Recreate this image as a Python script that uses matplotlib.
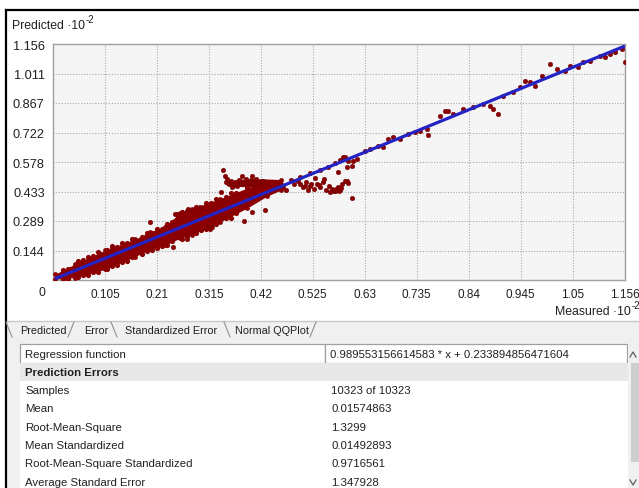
import matplotlib
matplotlib.use("Agg")
import matplotlib.pyplot as plt
from matplotlib.patches import Rectangle
import numpy as np

plt.rcParams['font.family'] = ['Liberation Sans', 'DejaVu Sans']

# --- data (display units, x10^-2) ---
x_ticks = [0.105, 0.21, 0.315, 0.42, 0.525, 0.63, 0.735, 0.84, 0.945, 1.05, 1.156]
x_labels = ['0.105', '0.21', '0.315', '0.42', '0.525', '0.63', '0.735', '0.84', '0.945', '1.05', '1.156']
y_ticks = [0.144, 0.289, 0.433, 0.578, 0.722, 0.867, 1.011, 1.156]
y_labels = ['0.144', '0.289', '0.433', '0.578', '0.722', '0.867', '1.011', '1.156']

# dense part of the cloud: envelope of the points
band_x = [0.004, 0.044, 0.105, 0.166, 0.196, 0.226, 0.257, 0.281, 0.338, 0.392, 0.432, 0.46]
band_lo = [0.003, 0.012, 0.052, 0.115, 0.150, 0.170, 0.205, 0.222, 0.285, 0.352, 0.410, 0.440]
band_hi = [0.028, 0.078, 0.145, 0.200, 0.235, 0.262, 0.330, 0.350, 0.398, 0.450, 0.480, 0.490]

# the flat blob above the line around x = 0.35 .. 0.46
blob_x = [0.350, 0.380, 0.420, 0.460]
blob_lo = [0.464, 0.458, 0.452, 0.456]
blob_hi = [0.486, 0.494, 0.496, 0.492]

# ragged points along the edges of the dense band
edge_x = [0.02, 0.03, 0.05, 0.06, 0.07, 0.08, 0.09, 0.11, 0.12, 0.13, 0.14, 0.15, 0.16, 0.18, 0.19,
          0.20, 0.21, 0.22, 0.23, 0.24, 0.26, 0.27, 0.29, 0.30, 0.31, 0.32, 0.33, 0.35, 0.36, 0.37]
edge_hi = [0.050, 0.056, 0.092, 0.097, 0.115, 0.118, 0.135, 0.148, 0.165, 0.160, 0.180, 0.182, 0.200,
           0.212, 0.230, 0.232, 0.250, 0.252, 0.275, 0.285, 0.335, 0.336, 0.360, 0.352, 0.375, 0.378,
           0.395, 0.405, 0.425, 0.428]
edge_lo = [0.006, 0.006, 0.014, 0.024, 0.026, 0.038, 0.040, 0.055, 0.070, 0.074, 0.090, 0.094, 0.112,
           0.126, 0.143, 0.146, 0.156, 0.168, 0.172, 0.192, 0.202, 0.215, 0.228, 0.246, 0.250, 0.268,
           0.272, 0.303, 0.306, 0.326]

# single points that stick out of the cloud
pts_x = [0.247, 0.243, 0.313, 0.095, 0.119, 0.176, 0.196, 0.251, 0.166, 0.273, 0.297, 0.271, 0.321,
         0.344, 0.348, 0.382, 0.402, 0.340, 0.344, 0.386, 0.428, 0.402, 0.317,
         0.350, 0.355, 0.360, 0.365, 0.370, 0.375, 0.380, 0.385, 0.390, 0.395, 0.400, 0.405, 0.410,
         0.415, 0.352, 0.362, 0.372, 0.392, 0.420, 0.425, 0.430,
         0.500, 0.505, 0.512, 0.520, 0.527, 0.533, 0.540, 0.545, 0.552, 0.558, 0.563, 0.570, 0.575,
         0.580, 0.585, 0.590, 0.560, 0.548, 0.515, 0.530, 0.495, 0.487, 0.465, 0.470,
         0.567, 0.572, 0.578, 0.583, 0.510, 0.522, 0.537, 0.596,
         0.445, 0.460, 0.480, 0.500, 0.520, 0.540, 0.555, 0.570, 0.580,
         0.604, 0.594, 0.576, 0.606, 0.586, 0.596, 0.594, 0.604,
         0.590, 0.614, 0.631, 0.641, 0.657, 0.667, 0.677, 0.687, 0.701, 0.717, 0.732, 0.742, 0.756,
         0.758, 0.782, 0.792, 0.798, 0.808, 0.829, 0.849, 0.869, 0.883, 0.889, 0.899, 0.909, 0.930,
         0.944, 0.954, 0.964, 0.974, 0.988, 1.004, 1.019, 1.035, 1.045, 1.061, 1.071, 1.085, 1.105,
         1.116, 1.126, 1.136, 1.150, 1.155]
pts_y = [0.323, 0.162, 0.260, 0.127, 0.152, 0.176, 0.284, 0.323, 0.191, 0.348, 0.358, 0.200, 0.260,
         0.539, 0.509, 0.509, 0.509, 0.431, 0.387, 0.289, 0.343, 0.333, 0.250,
         0.480, 0.470, 0.487, 0.465, 0.478, 0.490, 0.470, 0.482, 0.497, 0.475, 0.488, 0.470, 0.495,
         0.478, 0.495, 0.455, 0.460, 0.460, 0.466, 0.485, 0.475,
         0.470, 0.455, 0.480, 0.462, 0.445, 0.470, 0.455, 0.480, 0.440, 0.462, 0.448, 0.435, 0.455,
         0.442, 0.470, 0.485, 0.432, 0.495, 0.440, 0.500, 0.485, 0.470, 0.455, 0.440,
         0.438, 0.444, 0.436, 0.450, 0.462, 0.470, 0.466, 0.474,
         0.452, 0.470, 0.490, 0.505, 0.525, 0.540, 0.555, 0.575, 0.590,
         0.400, 0.485, 0.529, 0.583, 0.602, 0.583, 0.553, 0.558,
         0.602, 0.593, 0.632, 0.642, 0.656, 0.651, 0.691, 0.700, 0.691, 0.715, 0.725, 0.730, 0.740,
         0.710, 0.803, 0.828, 0.828, 0.813, 0.838, 0.847, 0.862, 0.852, 0.838, 0.813, 0.901, 0.921,
         0.945, 0.975, 0.970, 0.950, 0.999, 1.058, 1.033, 1.024, 1.048, 1.043, 1.068, 1.073, 1.097,
         1.092, 1.107, 1.117, 1.131, 1.068]

slope = 0.989553156614583
intercept = 0.233894856471604
scale = 0.01

table_names = ['Samples', 'Mean', 'Root-Mean-Square', 'Mean Standardized',
               'Root-Mean-Square Standardized', 'Average Standard Error']
table_values = ['10323 of 10323', '0.01574863', '1.3299', '0.01492893', '0.9716561', '1.347928']
tab_names = ['Predicted', 'Error', 'Standardized Error', 'Normal QQPlot']

W, H = 639, 489
txt_col = '#202020'
red = '#8b0000'

fig = plt.figure(figsize=(W / 100, H / 100), dpi=100)
ui = fig.add_axes([0, 0, 1, 1])
ui.set_xlim(0, W)
ui.set_ylim(H, 0)
ui.axis('off')
renderer = fig.canvas.get_renderer()


def label_with_exp(x, y, base, ha_right=None):
    t = ui.text(x, y, base, fontsize=8.8, va='center', ha='left', color=txt_col)
    bb = t.get_window_extent(renderer)
    x_end = bb.x1  # pixels, same as ui units horizontally
    ui.text(x_end + 1, y - 6, '-2', fontsize=7, va='center', ha='left', color=txt_col)
    return x_end


# window border
ui.plot([6, W], [11, 11], color='black', lw=1.6)
ui.plot([6, 6], [11, H], color='black', lw=1.6)

# axis titles
label_with_exp(12, 26, 'Predicted \u00b710')
label_with_exp(555, 312, 'Measured \u00b710')
ui.text(42, 293, '0', fontsize=8.8, va='center', ha='center', color=txt_col)

# tab strip
ui.add_patch(Rectangle((7, 322), W - 7, 18, facecolor='#f0f0f0', edgecolor='none'))
ui.plot([7, W], [322, 322], color='#c8c8c8', lw=1)
tab_x = [20, 84, 125, 235]
for name, tx in zip(tab_names, tab_x):
    ui.text(tx, 331, name, fontsize=7.8, va='center', ha='left', color=txt_col)
for sx, d in [(9, -1), (71, 1), (114, -1), (227, -1), (313, 1)]:
    ui.plot([sx - 3 * d, sx + 3 * d], [338, 323], color='#909090', lw=0.8)

# table
ui.add_patch(Rectangle((7, 340), W - 7, H - 340, facecolor='#f0f0f0', edgecolor='none'))
ui.add_patch(Rectangle((20, 382), 608, H - 382, facecolor='white', edgecolor='none'))
ui.add_patch(Rectangle((20, 345), 305, 19, facecolor='white', edgecolor='#a0a0a0', lw=0.9))
ui.add_patch(Rectangle((325, 345), 302, 19, facecolor='white', edgecolor='#a0a0a0', lw=0.9))
ui.text(25, 355, 'Regression function', fontsize=8.2, va='center', ha='left', color=txt_col)
ui.text(330, 355, '%s * x + %s' % (repr(slope), repr(intercept)), fontsize=8.2,
        va='center', ha='left', color=txt_col)
ui.add_patch(Rectangle((20, 364), 608, 18, facecolor='#e8e8e8', edgecolor='none'))
ui.text(25, 373, 'Prediction Errors', fontsize=8.2, fontweight='bold', va='center', ha='left',
        color=txt_col)
for i, (nm, val) in enumerate(zip(table_names, table_values)):
    yy = 391 + i * 18.3
    ui.text(25, yy, nm, fontsize=8.2, va='center', ha='left', color=txt_col)
    ui.text(331, yy, val, fontsize=8.2, va='center', ha='left', color=txt_col)

# scrollbar
ui.add_patch(Rectangle((628, 345), 11, H - 345, facecolor='#f0f0f0', edgecolor='none'))
ui.add_patch(Rectangle((631, 364), 8, 99, facecolor='#cdcdcd', edgecolor='none'))
ui.plot([630, 633, 636], [358, 353, 358], color='#606060', lw=0.9)
ui.plot([630, 633, 636], [481, 486, 481], color='#606060', lw=0.9)

# chart
ax = fig.add_axes([53 / W, 1 - 281 / H, 572 / W, 236 / H])
ax.set_facecolor('#f5f5f5')
ax.set_xlim(0, 1.156)
ax.set_ylim(0, 1.156)
ax.fill_between(band_x, band_lo, band_hi, color=red, lw=0, zorder=2)
ax.fill_between(blob_x, blob_lo, blob_hi, color=red, lw=0, zorder=2)
ax.scatter(edge_x + edge_x, edge_hi + edge_lo, s=14, color=red, lw=0, zorder=3)
ax.scatter(band_x + band_x, band_lo + band_hi, s=12, color=red, lw=0, zorder=3)
ax.scatter(pts_x, pts_y, s=11, color=red, edgecolors='#6a0000', linewidths=0.3, zorder=3)
lx = np.array([0.004, 1.156])
ax.plot(lx, slope * lx + intercept * scale, color='#2424c4', lw=2.3, zorder=4,
        solid_capstyle='butt')

ax.set_xticks(x_ticks)
ax.set_xticklabels(x_labels, fontsize=8.5, color=txt_col)
ax.set_yticks(y_ticks)
ax.set_yticklabels(y_labels, fontsize=9.2, color=txt_col)
ax.tick_params(length=0, pad=6)
ax.grid(True, linestyle=(0, (1, 1.5)), color='#a8a8a8', lw=0.8, zorder=1)
ax.set_axisbelow(True)
for s in ax.spines.values():
    s.set_color('#a0a0a0')
    s.set_linewidth(1)

fig.savefig('out.png', dpi=100)
